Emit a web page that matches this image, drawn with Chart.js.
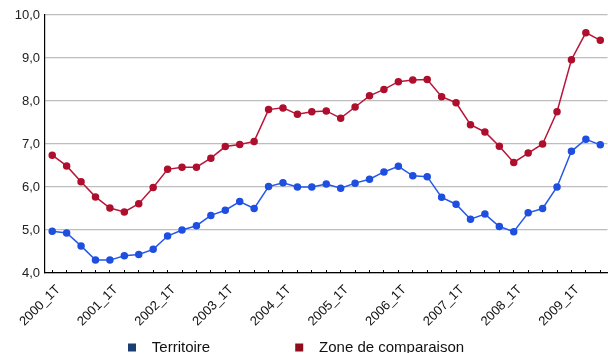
<!DOCTYPE html>
<html>
<head>
<meta charset="utf-8">
<script src="https://cdn.jsdelivr.net/npm/chart.js@4"></script>
<style>
  html, body { margin: 0; padding: 0; background: #fff; overflow: hidden; }
  #wrap { width: 613px; height: 365px; position: relative; }
</style>
</head>
<body>
<div id="wrap"><canvas id="chart"></canvas></div>
<script>
// quarters 2000_1T .. 2009_3T
var years = [2000, 2001, 2002, 2003, 2004, 2005, 2006, 2007, 2008, 2009]
var quarters = []
years.forEach(function (y) {
    for (var q = 1; q <= 4; q++) {
        if (y === 2009 && q > 3) break
        quarters.push(y + "_" + q + "T")
    }
})

var territoire = [
    4.97, 4.93, 4.63, 4.30, 4.30, 4.40, 4.43, 4.55,
    4.86, 5.00, 5.10, 5.34, 5.46, 5.66, 5.50, 6.01,
    6.10, 6.00, 6.00, 6.07, 5.97, 6.09, 6.18, 6.35,
    6.48, 6.26, 6.24, 5.76, 5.60, 5.25, 5.37, 5.08,
    4.96, 5.40, 5.50, 6.00, 6.83, 7.11, 6.98
]

var zoneComparaison = [
    6.74, 6.49, 6.12, 5.77, 5.51, 5.42, 5.61, 5.99,
    6.41, 6.46, 6.46, 6.67, 6.94, 6.99, 7.06, 7.80,
    7.84, 7.69, 7.75, 7.77, 7.60, 7.86, 8.12, 8.27,
    8.45, 8.49, 8.50, 8.10, 7.96, 7.45, 7.28, 6.95,
    6.57, 6.79, 7.00, 7.75, 8.96, 9.59, 9.41
]

var seriesNames = ["Territoire", "Zone de comparaison"]

var blue = "#2458ea"
var red = "#b8163a"

// spacing of the legend items is done with blanks
var legendPad = ["  ", "  "]
var legendTrail = ["                  ", "     "]

const data = {
    labels: quarters,
    datasets: [
        {
            label: seriesNames[0],
            data: territoire,
            borderColor: blue,
            backgroundColor: "#1c3f73",
            pointBackgroundColor: "#1f4fe0",
            pointBorderColor: "#1f4fe0",
            borderWidth: 1.5,
            pointRadius: 3,
            tension: 0
        },
        {
            label: seriesNames[1],
            data: zoneComparaison,
            borderColor: red,
            backgroundColor: "#8e0c1c",
            pointBackgroundColor: "#ae0f2c",
            pointBorderColor: "#ae0f2c",
            borderWidth: 1.5,
            pointRadius: 3,
            tension: 0
        }
    ]
}

var chart = new Chart(document.getElementById("chart"), {
    type: "line",
    data: data,
    options: {
        responsive: true,
        maintainAspectRatio: false,
        animation: false,
        layout: { padding: { top: 15, right: 0, left: 0, bottom: 0 } },
        plugins: {
            tooltip: { enabled: false },
            legend: {
                display: true,
                position: "bottom",
                labels: {
                    color: "#111",
                    boxWidth: 8,
                    boxHeight: 8,
                    padding: 10,
                    font: { family: "Liberation Sans", size: 15 },
                    generateLabels: function (c) {
                        var items = Chart.defaults.plugins.legend.labels.generateLabels(c)
                        items.forEach(function (it, i) {
                            it.lineWidth = 0
                            it.text = legendPad[i] + it.text + legendTrail[i]
                        })
                        return items
                    }
                }
            }
        },
        scales: {
            x: {
                offset: true,
                border: { display: true, color: "#000", width: 1.2 },
                grid: { drawOnChartArea: false, color: "#000", tickLength: -3 },
                afterFit: function (s) {
                    s.height = 57
                    s.paddingRight = 0
                    s.paddingLeft = 0
                },
                ticks: {
                    autoSkip: false,
                    minRotation: 45,
                    maxRotation: 45,
                    color: "#111",
                    padding: 12,
                    labelOffset: 6,
                    font: { family: "Liberation Sans", size: 13 },
                    callback: function (v, i) {
                        return i % 4 === 0 ? quarters[i] : ""
                    }
                }
            },
            y: {
                min: 4,
                max: 10,
                border: { display: true, color: "#000", width: 1.2 },
                grid: { color: "#bdbdbd", lineWidth: 1.2, drawTicks: false },
                afterFit: function (s) { s.width = 45 },
                ticks: {
                    stepSize: 1,
                    color: "#222",
                    padding: 5,
                    font: { family: "Liberation Sans", size: 13 },
                    callback: function (v) {
                        return v.toFixed(1).replace(".", ",")
                    }
                }
            }
        }
    }
})
</script>
</body>
</html>
